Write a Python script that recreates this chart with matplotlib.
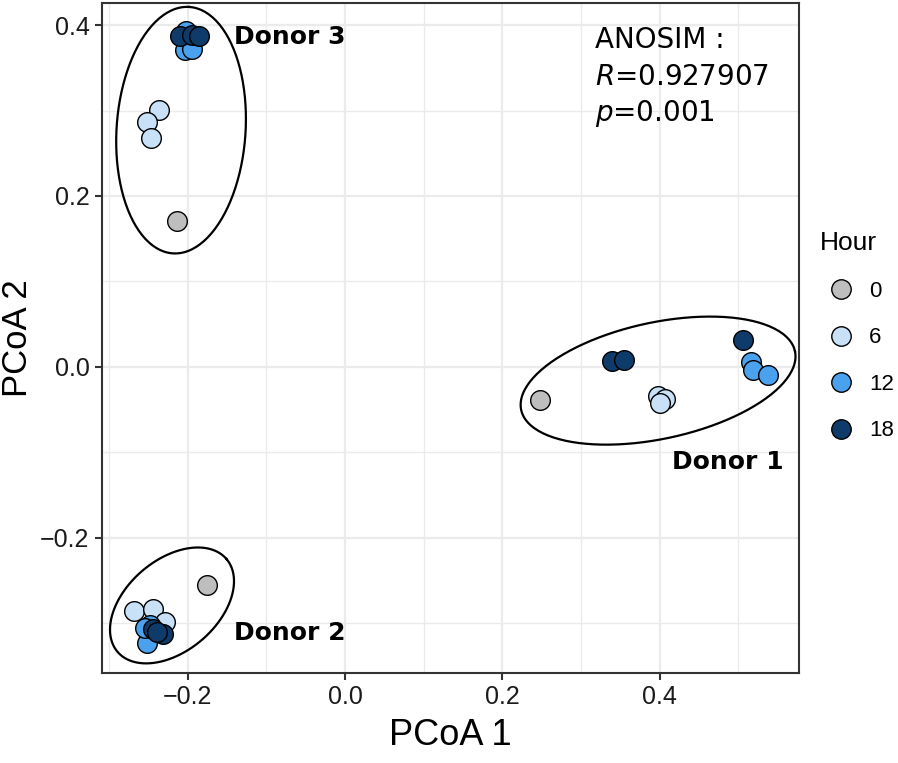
import numpy as np
import matplotlib
matplotlib.use("Agg")
import matplotlib.pyplot as plt
from matplotlib.lines import Line2D

plt.rcParams['font.family'] = ['Liberation Sans', 'DejaVu Sans']

# PCoA scores
donor = [1] * 10 + [2] * 10 + [3] * 10
hour = [0, 6, 6, 6, 12, 12, 12, 18, 18, 18] * 3
pc1 = [0.248, 0.398, 0.407, 0.400, 0.516, 0.519, 0.538, 0.340, 0.355, 0.506,
       -0.176, -0.268, -0.244, -0.229, -0.248, -0.252, -0.254, -0.244, -0.232, -0.239,
       -0.214, -0.236, -0.252, -0.247, -0.202, -0.203, -0.195, -0.210, -0.195, -0.186]
pc2 = [-0.039, -0.034, -0.038, -0.042, 0.006, -0.003, -0.010, 0.007, 0.008, 0.032,
       -0.255, -0.286, -0.283, -0.298, -0.302, -0.323, -0.305, -0.307, -0.313, -0.310,
       0.171, 0.301, 0.286, 0.268, 0.393, 0.371, 0.372, 0.387, 0.388, 0.387]

hour_levels = [0, 6, 12, 18]
hour_colors = {0: "#BEBEBE", 6: "#C8E1F7", 12: "#4AA2EE", 18: "#0E3B69"}
donor_names = {1: "Donor 1", 2: "Donor 2", 3: "Donor 3"}
anosim_R = 0.927907
anosim_p = 0.001

# hand drawn group ellipses: centre, semi axes (in x units), tilt in degrees
ell_donor = [1, 2, 3]
ell_cx = [0.398, -0.220, -0.2085]
ell_cy = [-0.016, -0.279, 0.277]
ell_a = [0.178, 0.091, 0.157]
ell_b = [0.074, 0.058, 0.082]
ell_angle = [12.1, 40.4, 86.2]

xlim = (-0.309, 0.577)
ylim = (-0.358, 0.4257)
ax_rect = [0.1136, 0.118, 0.776, 0.878]
W, H = 8.98, 7.63

fig = plt.figure(figsize=(W, H), dpi=100)
ax = fig.add_axes(ax_rect)

pc1 = np.array(pc1)
pc2 = np.array(pc2)
hour = np.array(hour)

# y/x pixel-per-unit ratio so ellipses keep their on-screen shape
sx = ax_rect[2] * W / (xlim[1] - xlim[0])
sy = ax_rect[3] * H / (ylim[1] - ylim[0])
asp = sx / sy
t = np.linspace(0, 2 * np.pi, 200)
for i in range(len(ell_donor)):
    th = np.radians(ell_angle[i])
    dx = ell_a[i] * np.cos(th) * np.cos(t) - ell_b[i] * np.sin(th) * np.sin(t)
    dy = ell_a[i] * np.sin(th) * np.cos(t) + ell_b[i] * np.cos(th) * np.sin(t)
    ax.plot(ell_cx[i] + dx, ell_cy[i] + dy * asp, color="black", lw=1.6, zorder=2)

for h in hour_levels:
    m = hour == h
    ax.scatter(pc1[m], pc2[m], s=200, c=hour_colors[h], edgecolors="black",
               linewidths=1.0, zorder=3)

ax.set_xlim(*xlim)
ax.set_ylim(*ylim)
ax.set_xticks([-0.2, 0.0, 0.2, 0.4])
ax.set_yticks([-0.2, 0.0, 0.2, 0.4])
ax.set_xticklabels(["\u22120.2", "0.0", "0.2", "0.4"])
ax.set_yticklabels(["\u22120.2", "0.0", "0.2", "0.4"])
ax.set_xticks([-0.3, -0.1, 0.1, 0.3, 0.5], minor=True)
ax.set_yticks([-0.3, -0.1, 0.1, 0.3], minor=True)
ax.grid(which="major", color="#EBEBEB", lw=1.6, zorder=0)
ax.grid(which="minor", color="#EBEBEB", lw=1.0, zorder=0)
ax.set_axisbelow(True)
ax.tick_params(which="minor", length=0)
ax.tick_params(which="major", length=5, width=1.5, color="#333333",
               labelsize=18, labelcolor="#1a1a1a", pad=4)
for s in ax.spines.values():
    s.set_color("#333333")
    s.set_linewidth(1.5)

ax.set_xlabel("PCoA 1", fontsize=26, labelpad=6)
ax.set_ylabel("PCoA 2", fontsize=25)
ax.yaxis.set_label_coords(-0.097, 0.5)

# donor labels
bold = dict(fontsize=18, fontweight="bold", family="DejaVu Sans", va="center")
ax.text(-0.141, 0.386, donor_names[3], ha="left", **bold)
ax.text(0.558, -0.111, donor_names[1], ha="right", **bold)
ax.text(-0.141, -0.311, donor_names[2], ha="left", **bold)

note = dict(fontsize=20, family="DejaVu Sans", va="center", ha="left")
ax.text(0.318, 0.382, "ANOSIM :", **note)
ax.text(0.318, 0.339, "$R$=%.6f" % anosim_R, **note)
ax.text(0.318, 0.297, "$p$=%.3f" % anosim_p, **note)

handles = [Line2D([], [], ls="", marker="o", ms=14, mfc=hour_colors[h], mec="black",
                  mew=1.0) for h in hour_levels]
leg = fig.legend(handles, [str(h) for h in hour_levels], title="Hour",
                 loc="upper left", bbox_to_anchor=(0.913, 0.697), frameon=False,
                 fontsize=16, title_fontsize=19, handlelength=1.9,
                 handletextpad=0.3, labelspacing=1.15, borderaxespad=0,
                 borderpad=0)
leg._legend_box.align = "left"

fig.savefig("out.png", dpi=100)
